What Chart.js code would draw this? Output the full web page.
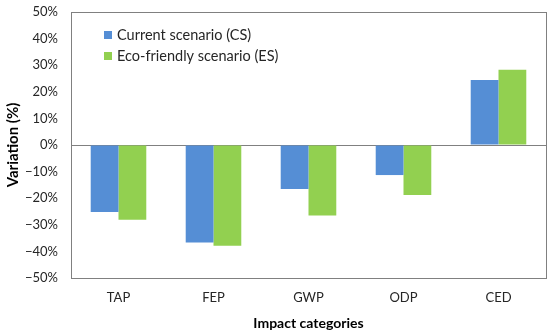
<!DOCTYPE html>
<html>
<head>
<meta charset="utf-8">
<script src="https://cdn.jsdelivr.net/npm/chart.js@4"></script>
<style>
  body { margin: 0; background: #fff; }
  #wrap { width: 550px; height: 336px; }
</style>
</head>
<body>
<div id="wrap"><canvas id="grafico"></canvas></div>
<script>
// dados
const categorias = ['TAP', 'FEP', 'GWP', 'ODP', 'CED'];
const cenarioAtual = [-25.2, -36.7, -16.5, -11.3, 24.4];
const cenarioEco = [-28.1, -37.9, -26.5, -18.8, 28.3];
const nomesSeries = ['Current scenario (CS)', 'Eco-friendly scenario (ES)'];
const coresSeries = ['#558ed5', '#92d050'];

const fonte = 'Lato, "Open Sans", sans-serif';

// legenda dentro da área do gráfico + moldura
const molduraELegenda = {
    id: 'molduraELegenda',
    afterDraw(chart) {
        const ctx = chart.ctx;
        const a = chart.chartArea;
        ctx.save();
        ctx.strokeStyle = '#808080';
        ctx.lineWidth = 1;
        ctx.strokeRect(Math.round(a.left) + 0.5, Math.round(a.top) + 0.5,
            Math.round(a.right - a.left), Math.round(a.bottom - a.top));

        ctx.font = '14.5px ' + fonte;
        ctx.textBaseline = 'middle';
        for (let i = 0; i < nomesSeries.length; i++) {
            const y = a.top + 23 + i * 21;
            ctx.fillStyle = coresSeries[i];
            ctx.fillRect(a.left + 33, y - 4, 8, 8);
            ctx.fillStyle = '#262626';
            ctx.fillText(nomesSeries[i], a.left + 46, y + 0.5);
        }
        ctx.restore();
    }
};

new Chart(document.getElementById('grafico'), {
    type: 'bar',
    data: {
        labels: categorias,
        datasets: [
            { label: nomesSeries[0], data: cenarioAtual, backgroundColor: coresSeries[0] },
            { label: nomesSeries[1], data: cenarioEco, backgroundColor: coresSeries[1] }
        ]
    },
    options: {
        responsive: true,
        maintainAspectRatio: false,
        animation: false,
        categoryPercentage: 0.585,
        barPercentage: 1,
        layout: { padding: { top: 12, right: 4, left: 0, bottom: 0 } },
        plugins: {
            legend: { display: false },
            tooltip: { enabled: false }
        },
        scales: {
            x: {
                grid: { display: false, drawTicks: false },
                border: { display: false },
                ticks: { color: '#262626', font: { family: fonte, size: 13 }, padding: 12 },
                title: {
                    display: true,
                    text: 'Impact categories',
                    color: '#000',
                    font: { family: fonte, size: 14, weight: 'bold' },
                    padding: { top: 8 }
                },
                afterFit: s => {
                    s.height = 58;
                    s.paddingLeft = 0;
                    s.paddingRight = 0;
                }
            },
            y: {
                min: -50,
                max: 50,
                grid: {
                    drawTicks: false,
                    color: c => (c.tick && c.tick.value === 0 ? '#808080' : 'rgba(0,0,0,0)')
                },
                border: { display: false },
                ticks: {
                    stepSize: 10,
                    color: '#262626',
                    font: { family: fonte, size: 13 },
                    padding: 13,
                    callback: v => (v < 0 ? '\u2212' + Math.abs(v) : v) + '%'
                },
                title: {
                    display: true,
                    text: 'Variation (%)',
                    color: '#000',
                    font: { family: fonte, size: 15, weight: 'bold' },
                    padding: { bottom: 2 }
                },
                afterFit: s => {
                    s.width = 71;
                    s.paddingTop = 0;
                    s.paddingBottom = 0;
                }
            }
        }
    },
    plugins: [molduraELegenda]
});
</script>
</body>
</html>
